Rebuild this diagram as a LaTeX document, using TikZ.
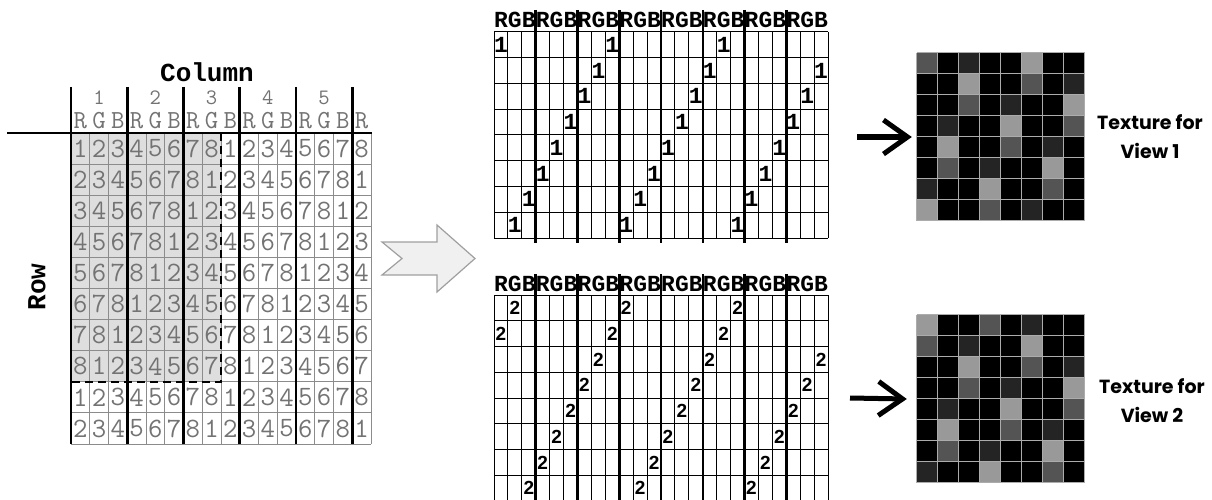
\documentclass[tikz,border=0pt]{standalone}
\usepackage{fontspec}
\usepackage{tikz}
\usetikzlibrary{arrows.meta, positioning, calc}
\newfontfamily\boldmono{Liberation Mono}
\newfontfamily\boldsans{Liberation Sans}
\newfontfamily\labelsans{Poppins}
\definecolor{shadeK}{gray}{0.0}
\definecolor{shadeD}{gray}{0.14}
\definecolor{shadeM}{gray}{0.33}
\definecolor{shadeL}{gray}{0.6}
\definecolor{cellgray}{gray}{0.87}
\definecolor{numgray}{gray}{0.45}
\definecolor{linegray}{gray}{0.55}

\begin{document}
\begin{tikzpicture}[x=1pt,y=-1pt,
    lnum/.style={font=\fontsize{28pt}{28pt}\selectfont\ttfamily,text=numgray,inner sep=0pt},
    lsub/.style={font=\fontsize{26pt}{26pt}\selectfont\ttfamily,text=numgray,inner sep=0pt},
    lhead/.style={font=\fontsize{22pt}{22pt}\selectfont\ttfamily,text=numgray,inner sep=0pt},
    axislbl/.style={font=\fontsize{26pt}{26pt}\selectfont\boldmono\bfseries,inner sep=0pt},
    mhead/.style={font=\fontsize{23pt}{23pt}\selectfont\boldmono\bfseries,inner sep=0pt},
    onenum/.style={font=\fontsize{23pt}{23pt}\selectfont\boldmono\bfseries,inner sep=0pt},
    twonum/.style={font=\fontsize{19pt}{19pt}\selectfont\boldsans\bfseries,inner sep=0pt},
    thinline/.style={linegray,line width=1pt},
    thickline/.style={black,line width=2.6pt},
    gridline/.style={black,line width=1pt},
    dashline/.style={black,line width=2.4pt,dash pattern=on 8pt off 5pt},
    texbox/.style={minimum size=168pt,inner sep=0pt},
    texline/.style={gray!65,line width=1pt},
    texlbl/.style={font=\fontsize{19pt}{29pt}\selectfont\labelsans\bfseries,align=center},
    bigarrow/.style={-{Straight Barb[length=24pt,width=34pt]},line width=5pt},
    hollow/.style={fill=gray!12,draw=gray!75,line width=1.2pt,line join=miter}
  ]
  \clip (0,0) rectangle (1212,500);

  % Left table: 16 subpixel columns x 10 rows
  \fill[cellgray] (71,133) rectangle (221,381.8);
  \foreach \r in {0,...,9}
    \foreach \c in {0,...,15}{
      \pgfmathtruncatemacro\v{mod(\r+\c,8)+1}
      \node[lnum] (l-\r-\c) at ({71+(\c+0.5)*18.75},{133+(\r+0.5)*31.1}) {\v};
    }
  \foreach \c in {1,...,16}
    \draw[thinline] ({71+\c*18.75},133) -- ({71+\c*18.75},444);
  \foreach \r in {1,...,10}
    \draw[thinline] (71,{133+\r*31.1}) -- (371,{133+\r*31.1});
  \foreach \k in {0,...,5}
    \draw[thickline] ({71+3*\k*18.75},87) -- ({71+3*\k*18.75},444);
  \draw[thickline] (7,133) -- (372,133);
  \draw[dashline] (221,133) -- (221,381.8) -- (71,381.8);

  % Left table headers
  \foreach \k in {0,...,4}{
    \pgfmathtruncatemacro\n{\k+1}
    \node[lhead] (pix-\n) at ({71+(3*\k+1.5)*18.75},98) {\n};
  }
  \foreach \ch [count=\c from 0] in {R,G,B,R,G,B,R,G,B,R,G,B,R,G,B,R}
    \node[lsub] (sub-\c) at ({71+(\c+0.5)*18.75},121) {\ch};
  \node[axislbl] (colname) at (207,72) {Column};
  \node[axislbl,rotate=90] (rowname) at (37,287) {Row};

  % Hollow arrow between tables
  \draw[hollow] (382,242) -- (402,258.5) -- (382,275) -- (437,275) -- (437,292)
    -- (475,258.5) -- (437,225) -- (437,242) -- cycle;

  % View 1 table
  \foreach \r in {0,...,8}
    \draw[gridline] (494,{32+\r*25.75}) -- (828,{32+\r*25.75});
  \foreach \c in {0,...,24}
    \draw[gridline] ({494+\c*13.92},32) -- ({494+\c*13.92},238);
  \foreach \k in {1,...,7}
    \draw[thickline] ({494+3*\k*13.92},10) -- ({494+3*\k*13.92},243);
  \foreach \k in {0,...,7}
    \node[mhead] (th-\k) at ({494+(3*\k+1.5)*13.92},20) {RGB};
  \foreach \r in {1,...,8}
    \foreach \k in {0,1,2}{
      \pgfmathtruncatemacro\c{mod(9-\r,8)+8*\k}
      \node[onenum] (one-\r-\k) at ({494+(\c+0.5)*13.92},{32+(\r-0.5)*25.75}) {1};
    }

  % View 2 table
  \foreach \r in {0,...,8}
    \draw[gridline] (494,{295+\r*25.75}) -- (828,{295+\r*25.75});
  \foreach \c in {0,...,24}
    \draw[gridline] ({494+\c*13.92},295) -- ({494+\c*13.92},502);
  \foreach \k in {1,...,7}
    \draw[thickline] ({494+3*\k*13.92},274) -- ({494+3*\k*13.92},502);
  \foreach \k in {0,...,7}
    \node[mhead] (bh-\k) at ({494+(3*\k+1.5)*13.92},284) {RGB};
  \foreach \r in {1,...,8}
    \foreach \k in {0,1,2}{
      \pgfmathtruncatemacro\c{mod(10-\r,8)+8*\k}
      \node[twonum] (two-\r-\k) at ({494+(\c+0.5)*13.92},{295+(\r-0.5)*25.75}) {2};
    }

  % Textures
  \node[texbox] (tex1) at (1001,137) {};
  \node[texbox] (tex2) at (1001,399) {};
  \foreach \row [count=\r from 0] in {{M,K,D,K,K,L,K,K},{K,K,L,K,K,M,K,D},
      {K,K,M,K,D,K,K,L},{K,D,K,K,L,K,K,M},{K,L,K,K,M,K,D,K},
      {K,M,K,D,K,K,L,K},{D,K,K,L,K,K,M,K},{L,K,K,M,K,D,K,K}}
    \foreach \s [count=\c from 0] in \row
      \fill[shade\s] ($(tex1.north west)+(21*\c,21*\r)$) rectangle ++(21,21);
  \foreach \row [count=\r from 0] in {{L,K,K,M,K,D,K,K},{M,K,D,K,K,L,K,K},
      {K,K,L,K,K,M,K,D},{K,K,M,K,D,K,K,L},{K,D,K,K,L,K,K,M},
      {K,L,K,K,M,K,D,K},{K,M,K,D,K,K,L,K},{D,K,K,L,K,K,M,K}}
    \foreach \s [count=\c from 0] in \row
      \fill[shade\s] ($(tex2.north west)+(21*\c,21*\r)$) rectangle ++(21,21);
  \foreach \t in {tex1,tex2}
    \foreach \i in {0,...,8}{
      \draw[texline] ($(\t.north west)+(21*\i,0)$) -- ++(0,168);
      \draw[texline] ($(\t.north west)+(0,21*\i)$) -- ++(168,0);
    }

  % Arrows and labels
  \coordinate (in1) at (857,137);
  \coordinate (in2) at (850,398);
  \draw[bigarrow] (in1) -- ([xshift=-5pt]tex1.west);
  \draw[bigarrow] (in2) -- ([xshift=-10pt]tex2.west);
  \node[texlbl] (lbl1) at (1150,137) {Texture for\\View 1};
  \node[texlbl] (lbl2) at (1152,401) {Texture for\\View 2};
\end{tikzpicture}
\end{document}
